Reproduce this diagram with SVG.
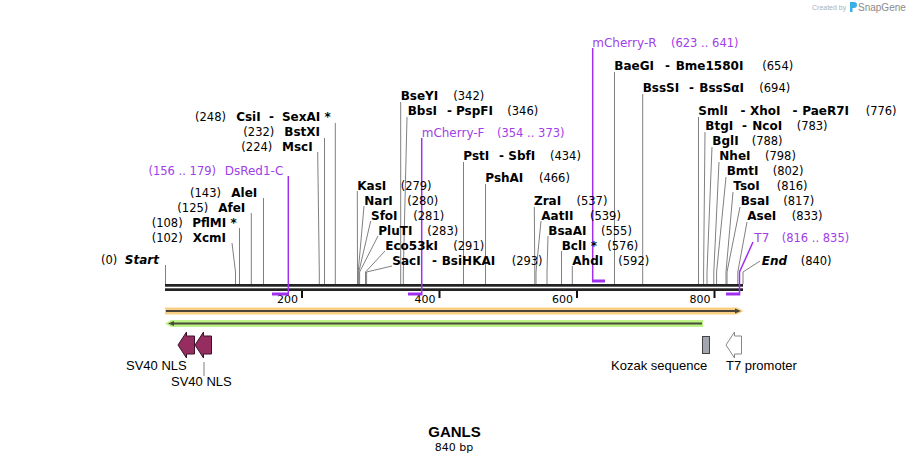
<svg xmlns="http://www.w3.org/2000/svg" width="909" height="463" viewBox="0 0 909 463">
<style>
text{font-family:"DejaVu Sans",Verdana,sans-serif;fill:#000}
.n{font-size:12px;font-weight:bold}
.c{font-size:11.5px}
.bi{font-size:12px;font-weight:bold;font-style:italic}
.p{font-size:12px;fill:#a040e8}
.pc{font-size:11.5px;fill:#a040e8}
.f{font-family:"Liberation Sans",Arial,sans-serif;font-size:13px}
.tk{font-size:11px}
.ln{stroke:#808080;stroke-width:1;fill:none}
.pl{stroke:#a030ee;stroke-width:1.5;fill:none}
.ph{stroke:#a030ee;stroke-width:3;fill:none}
</style>
<rect width="909" height="463" fill="#fff"/>
<g id="credit">
<text x="812" y="10" style="font-family:'Liberation Sans',Arial,sans-serif;font-size:7px;fill:#b0b0b0">Created by</text>
<path d="M850,2 h4 a3,3 0 0 1 0,6 h-1.5 v4 h-2.5 z" fill="#3aaee6"/>
<text x="858" y="11" style="font-family:'Liberation Sans',Arial,sans-serif;font-size:10px;fill:#8a8a8a">SnapGene</text>
</g>
<g id="connectors">
<path class="ln" d="M165.5,265 V284"/>
<path class="ln" d="M232,243 L235.5,272 V284"/>
<path class="ln" d="M239.5,228 V284"/>
<path class="ln" d="M251.3,213 V284"/>
<path class="ln" d="M263.5,198 V284"/>
<path class="ln" d="M317.7,152 L319.3,272 V284"/>
<path class="ln" d="M324.5,138 V284"/>
<path class="ln" d="M335.3,123 V284"/>
<path class="ln" d="M357.3,191 L357.5,272 V284"/>
<path class="ln" d="M364,206 L358.2,272 V284"/>
<path class="ln" d="M370.7,221 L358.8,272 V284"/>
<path class="ln" d="M378,236 L359.6,272 V284"/>
<path class="ln" d="M385,251 L365.5,272 V284"/>
<path class="ln" d="M392,266 L366.6,272 V284"/>
<path class="ln" d="M400.7,102 V284"/>
<path class="ln" d="M407,117 L403.3,272 V284"/>
<path class="ln" d="M463.5,162 V284"/>
<path class="ln" d="M485.5,184 V284"/>
<path class="ln" d="M534.3,207 L534.8,272 V284"/>
<path class="ln" d="M541,221 L536,272 V284"/>
<path class="ln" d="M548,236 L547,272 V284"/>
<path class="ln" d="M561.5,251 V284"/>
<path class="ln" d="M572.3,266 V284"/>
<path class="ln" d="M614.5,72 V284"/>
<path class="ln" d="M642.7,94 V284"/>
<path class="ln" d="M698.5,117 V284"/>
<path class="ln" d="M705,132 L703.6,272 V284"/>
<path class="ln" d="M712,147 L707,272 V284"/>
<path class="ln" d="M719,162 L713.8,272 V284"/>
<path class="ln" d="M726,177 L716.6,272 V284"/>
<path class="ln" d="M733,192 L726,272 V284"/>
<path class="ln" d="M740,207 L727,272 V284"/>
<path class="ln" d="M747,222 L737.8,272 V284"/>
<path class="ln" d="M760,261 L743,272 V284"/>
<path class="ln" d="M204,362 V376"/>
</g>
<g id="backbone">
<rect x="165" y="284" width="578" height="2.7" fill="#222"/>
<rect x="165" y="288.3" width="578" height="2.7" fill="#222"/>
<rect x="301" y="291" width="2" height="7" fill="#111"/>
<rect x="438.5" y="291" width="2" height="7" fill="#111"/>
<rect x="576" y="291" width="2" height="7" fill="#111"/>
<rect x="713.5" y="291" width="2" height="7" fill="#111"/>
<text class="tk" x="298" y="303" text-anchor="end">200</text>
<text class="tk" x="435.5" y="303" text-anchor="end">400</text>
<text class="tk" x="573" y="303" text-anchor="end">600</text>
<text class="tk" x="710.5" y="303" text-anchor="end">800</text>
</g>
<g id="primer-lines">
<path class="pl" d="M288.3,176 V293"/><path class="ph" d="M272,294 H289"/>
<path class="pl" d="M421.7,138 V293"/><path class="ph" d="M408,294 H422.5"/>
<path class="pl" d="M592.7,48 V280"/><path class="ph" d="M592,281 H605"/>
<path class="pl" d="M753,242 L739.5,272 V293"/><path class="ph" d="M726,294 H740.3"/>
</g>
<g id="feature-forward">
<path d="M165,307.5 H737 L743.5,311 L737,314.5 H165 Z" fill="#f8cf84"/>
<path d="M166,311 H737" stroke="#4a4438" stroke-width="2"/>
<path d="M735,308.5 L741,311 L735,313.5 Z" fill="#4a4438"/>
</g>
<g id="feature-reverse">
<path d="M171,320 H703 V327 H171 L165,323.5 Z" fill="#bdf286"/>
<path d="M172,323.5 H702" stroke="#4a4c3a" stroke-width="2"/>
<path d="M174,321 L168,323.5 L174,326 Z" fill="#4a4c3a"/>
</g>
<g id="sv40-nls-1">
<path d="M178,345 L186.5,332 L186.5,336 L194.5,336 L194.5,354 L186.5,354 L186.5,358 Z" fill="#962d60" stroke="#3c1228" stroke-width="1"/>
<text class="f" x="126" y="370">SV40 NLS</text>
</g>
<g id="sv40-nls-2">
<path d="M195,345 L203.5,332 L203.5,336 L211.5,336 L211.5,354 L203.5,354 L203.5,358 Z" fill="#962d60" stroke="#3c1228" stroke-width="1"/>
<text class="f" x="171" y="386">SV40 NLS</text>
</g>
<g id="kozak">
<rect x="702.5" y="336.5" width="7" height="17" fill="#a2a6ae" stroke="#444" stroke-width="1"/>
<text class="f" x="611" y="370">Kozak sequence</text>
</g>
<g id="t7-promoter">
<path d="M726,345 L734.5,332 L734.5,336 L741.5,336 L741.5,354 L734.5,354 L734.5,358 Z" fill="#fff" stroke="#888" stroke-width="1"/>
<text class="f" x="726" y="370">T7 promoter</text>
</g>
<g id="title">
<text x="454.5" y="437" text-anchor="middle" style="font-family:'Liberation Sans',Arial,sans-serif;font-size:15px;font-weight:bold">GANLS</text>
<text x="454" y="451" text-anchor="middle" style="font-size:11px">840 bp</text>
</g>
<g id="start"><text class="c" x="117.3" y="264" text-anchor="end">(0)</text><text class="bi" x="159" y="264" text-anchor="end">Start</text></g>
<g id="XcmI"><text class="c" x="182.7" y="241.5" text-anchor="end">(102)</text><text class="n" x="226" y="241.5" text-anchor="end">XcmI</text></g>
<g id="PflMI"><text class="c" x="182.7" y="226.5" text-anchor="end">(108)</text><text class="n" x="236.7" y="226.5" text-anchor="end">PflMI *</text></g>
<g id="AfeI"><text class="c" x="208.3" y="211.5" text-anchor="end">(125)</text><text class="n" x="245.3" y="211.5" text-anchor="end">AfeI</text></g>
<g id="AleI"><text class="c" x="221" y="196.5" text-anchor="end">(143)</text><text class="n" x="257.3" y="196.5" text-anchor="end">AleI</text></g>
<g id="DsRed1-C"><text class="pc" x="216" y="174.5" text-anchor="end">(156 .. 179)</text><text class="p" x="283.3" y="174.5" text-anchor="end">DsRed1-C</text></g>
<g id="MscI"><text class="c" x="272.3" y="151" text-anchor="end">(224)</text><text class="n" x="312.7" y="151" text-anchor="end">MscI</text></g>
<g id="BstXI"><text class="c" x="274.3" y="136" text-anchor="end">(232)</text><text class="n" x="320" y="136" text-anchor="end">BstXI</text></g>
<g id="CsiI-SexAI"><text class="c" x="226" y="120.5" text-anchor="end">(248)</text><text class="n" x="260.7" y="120.5" text-anchor="end">CsiI</text><text class="n" x="269" y="120.5">-</text><text class="n" x="330.7" y="120.5" text-anchor="end">SexAI *</text></g>
<g id="KasI"><text class="n" x="357.3" y="189.5">KasI</text><text class="c" x="400.7" y="189.5">(279)</text></g>
<g id="NarI"><text class="n" x="364.3" y="204.5">NarI</text><text class="c" x="407.3" y="204.5">(280)</text></g>
<g id="SfoI"><text class="n" x="371" y="219.5">SfoI</text><text class="c" x="413.3" y="219.5">(281)</text></g>
<g id="PluTI"><text class="n" x="378.3" y="234.5">PluTI</text><text class="c" x="427.3" y="234.5">(283)</text></g>
<g id="Eco53kI"><text class="n" x="385.3" y="249.5">Eco53kI</text><text class="c" x="453.3" y="249.5">(291)</text></g>
<g id="SacI-BsiHKAI"><text class="n" x="392.3" y="264.5">SacI</text><text class="n" x="432" y="264.5">-</text><text class="n" x="441.7" y="264.5">BsiHKAI</text><text class="c" x="511.7" y="264.5">(293)</text></g>
<g id="BseYI"><text class="n" x="400.7" y="99.5">BseYI</text><text class="c" x="453.3" y="99.5">(342)</text></g>
<g id="BbsI-PspFI"><text class="n" x="407.7" y="114.5">BbsI</text><text class="n" x="447" y="114.5">-</text><text class="n" x="456" y="114.5">PspFI</text><text class="c" x="507.3" y="114.5">(346)</text></g>
<g id="mCherry-F"><text class="p" x="421.7" y="136.5">mCherry-F</text><text class="pc" x="497" y="136.5">(354 .. 373)</text></g>
<g id="PstI-SbfI"><text class="n" x="463.3" y="159.5">PstI</text><text class="n" x="499" y="159.5">-</text><text class="n" x="508.3" y="159.5">SbfI</text><text class="c" x="550" y="159.5">(434)</text></g>
<g id="PshAI"><text class="n" x="485.3" y="181.5">PshAI</text><text class="c" x="539" y="181.5">(466)</text></g>
<g id="ZraI"><text class="n" x="534" y="204.5">ZraI</text><text class="c" x="576.5" y="204.5">(537)</text></g>
<g id="AatII"><text class="n" x="541.3" y="219.5">AatII</text><text class="c" x="590" y="219.5">(539)</text></g>
<g id="BsaAI"><text class="n" x="548.3" y="234.5">BsaAI</text><text class="c" x="601" y="234.5">(555)</text></g>
<g id="BclI"><text class="n" x="561.7" y="249.5">BclI *</text><text class="c" x="607.3" y="249.5">(576)</text></g>
<g id="AhdI"><text class="n" x="572.3" y="264.5">AhdI</text><text class="c" x="618.3" y="264.5">(592)</text></g>
<g id="mCherry-R"><text class="p" x="592.3" y="46.5">mCherry-R</text><text class="pc" x="671" y="46.5">(623 .. 641)</text></g>
<g id="BaeGI-Bme1580I"><text class="n" x="614.3" y="69.5">BaeGI</text><text class="n" x="665" y="69.5">-</text><text class="n" x="675.7" y="69.5">Bme1580I</text><text class="c" x="762.3" y="69.5">(654)</text></g>
<g id="BssSI-BssSaI"><text class="n" x="642.7" y="91.5">BssSI</text><text class="n" x="689" y="91.5">-</text><text class="n" x="699.3" y="91.5">BssSαI</text><text class="c" x="759.3" y="91.5">(694)</text></g>
<g id="SmlI-XhoI-PaeR7I"><text class="n" x="698.3" y="114.5">SmlI</text><text class="n" x="740.5" y="114.5">-</text><text class="n" x="750" y="114.5">XhoI</text><text class="n" x="792.5" y="114.5">-</text><text class="n" x="802.3" y="114.5">PaeR7I</text><text class="c" x="865.7" y="114.5">(776)</text></g>
<g id="BtgI-NcoI"><text class="n" x="705.3" y="129.5">BtgI</text><text class="n" x="742" y="129.5">-</text><text class="n" x="752.3" y="129.5">NcoI</text><text class="c" x="796.7" y="129.5">(783)</text></g>
<g id="BglI"><text class="n" x="712.3" y="144.5">BglI</text><text class="c" x="751.7" y="144.5">(788)</text></g>
<g id="NheI"><text class="n" x="719.3" y="159.5">NheI</text><text class="c" x="765" y="159.5">(798)</text></g>
<g id="BmtI"><text class="n" x="726.7" y="174.5">BmtI</text><text class="c" x="772.7" y="174.5">(802)</text></g>
<g id="TsoI"><text class="n" x="733.3" y="189.5">TsoI</text><text class="c" x="776.7" y="189.5">(816)</text></g>
<g id="BsaI"><text class="n" x="740.7" y="204.5">BsaI</text><text class="c" x="783.3" y="204.5">(817)</text></g>
<g id="AseI"><text class="n" x="747.3" y="219.5">AseI</text><text class="c" x="791.7" y="219.5">(833)</text></g>
<g id="T7"><text class="p" x="754.3" y="241.5">T7</text><text class="pc" x="781.7" y="241.5">(816 .. 835)</text></g>
<g id="end"><text class="bi" x="761.7" y="264.5">End</text><text class="c" x="800.7" y="264.5">(840)</text></g>
</svg>
